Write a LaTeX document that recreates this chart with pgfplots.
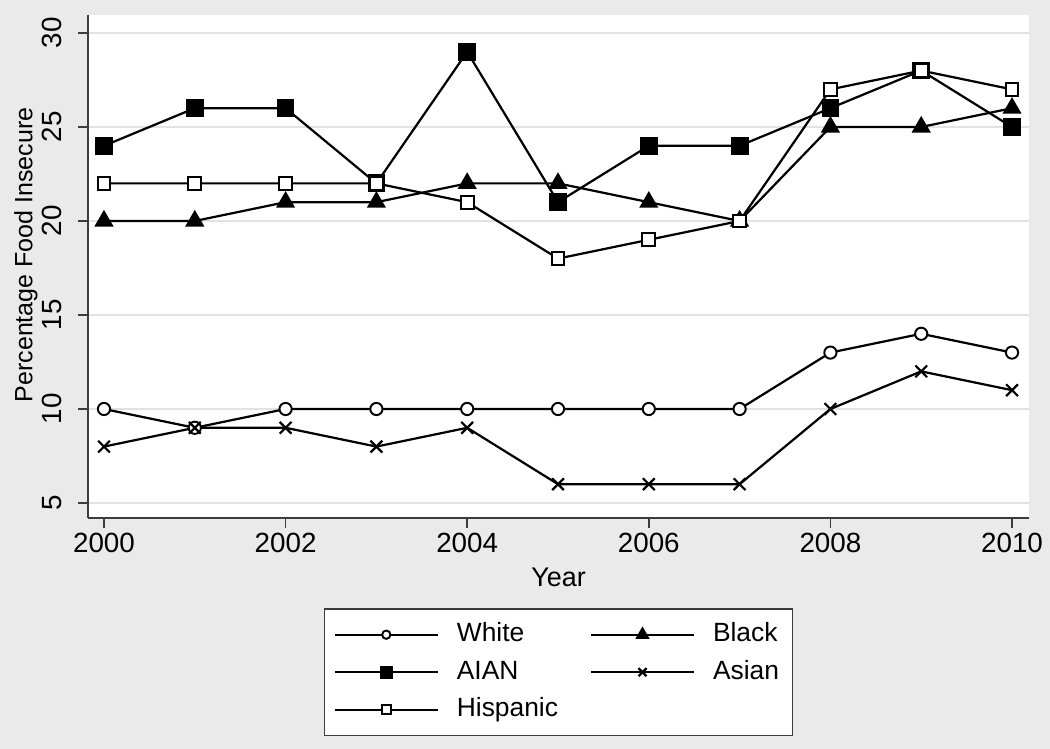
\documentclass[border=0pt]{standalone}
\usepackage{fontspec}
\setmainfont{Liberation Sans}
\usepackage{pgfplots}
\pgfplotsset{compat=1.18}
\definecolor{bggray}{RGB}{234,234,234}
\definecolor{axgray}{RGB}{60,60,60}
\definecolor{gridgray}{RGB}{226,226,226}
\begin{document}
\begin{tikzpicture}
\useasboundingbox[fill=bggray] (-31.68pt,186.48pt) rectangle (346.32pt,-83.16pt);
\begin{axis}[
  at={(0,0)}, anchor=south west,
  scale only axis, width=338.76pt, height=181.08pt,
  xmin=1999.824, xmax=2010.187, ymin=4.202, ymax=30.957,
  axis x line*=bottom, axis y line*=left,
  axis background/.style={fill=white},
  axis line style={axgray, line width=0.7pt},
  tick align=outside, major tick length=3.6pt,
  tick style={axgray, line width=0.6pt},
  xtick={2000,2002,...,2010}, ytick={5,10,...,30},
  scaled x ticks=false,
  /pgf/number format/1000 sep={},
  /pgf/number format/assume math mode=true,
  ymajorgrids, grid style={gridgray, line width=0.7pt},
  ticklabel style={font=\fontsize{10}{12}\selectfont},
  xticklabel style={inner sep=1.8pt},
  yticklabel style={rotate=90, anchor=south, inner sep=5.6pt},
  xlabel={Year}, ylabel={Percentage Food Insecure},
  xlabel style={font=\fontsize{9.7}{11}\selectfont, at={(axis description cs:0.5,-0.1173)}, anchor=center},
  ylabel style={font=\fontsize{9}{11}\selectfont, at={(axis description cs:-0.066,0.523)}, anchor=center},
  every axis plot/.append style={black, line width=0.8pt},
  legend columns=2,
  legend image code/.code={\draw[mark repeat=2,mark phase=2, every mark/.append style={scale=0.68}] plot coordinates {(0pt,0pt) (18.5pt,0pt) (37pt,0pt)};},
  legend style={at={(axis description cs:0.5,-0.179)}, anchor=north,
    draw=axgray, line width=0.6pt, fill=white, inner sep=3.3pt,
    font=\fontsize{9.5}{11}\selectfont,
    nodes={inner sep=1.5pt, text height=7pt, text depth=2pt},
    row sep=1.5pt,
    /tikz/every odd column/.append style={column sep=5pt},
    /tikz/every even column/.append style={column sep=10pt}},
  legend cell align=left,
]
\addplot[mark=*, mark size=2.2pt, mark options={solid, fill=white, line width=0.7pt}] coordinates {
 (2000,10) (2001,9) (2002,10) (2003,10) (2004,10) (2005,10) (2006,10) (2007,10) (2008,13) (2009,14) (2010,13)};
\addlegendentry{White}
\addplot[mark=triangle*, mark size=3.2pt, mark options={solid}] coordinates {
 (2000,20) (2001,20) (2002,21) (2003,21) (2004,22) (2005,22) (2006,21) (2007,20) (2008,25) (2009,25) (2010,26)};
\addlegendentry{Black}
\addplot[mark=square*, mark size=2.8pt, mark options={solid}] coordinates {
 (2000,24) (2001,26) (2002,26) (2003,22) (2004,29) (2005,21) (2006,24) (2007,24) (2008,26) (2009,28) (2010,25)};
\addlegendentry{AIAN}
\addplot[mark=x, mark size=3pt, mark options={solid, line width=0.8pt}] coordinates {
 (2000,8) (2001,9) (2002,9) (2003,8) (2004,9) (2005,6) (2006,6) (2007,6) (2008,10) (2009,12) (2010,11)};
\addlegendentry{Asian}
\addplot[mark=square*, mark size=2.3pt, mark options={solid, fill=white, line width=0.7pt}] coordinates {
 (2000,22) (2001,22) (2002,22) (2003,22) (2004,21) (2005,18) (2006,19) (2007,20) (2008,27) (2009,28) (2010,27)};
\addlegendentry{Hispanic}
\end{axis}
\end{tikzpicture}
\end{document}
